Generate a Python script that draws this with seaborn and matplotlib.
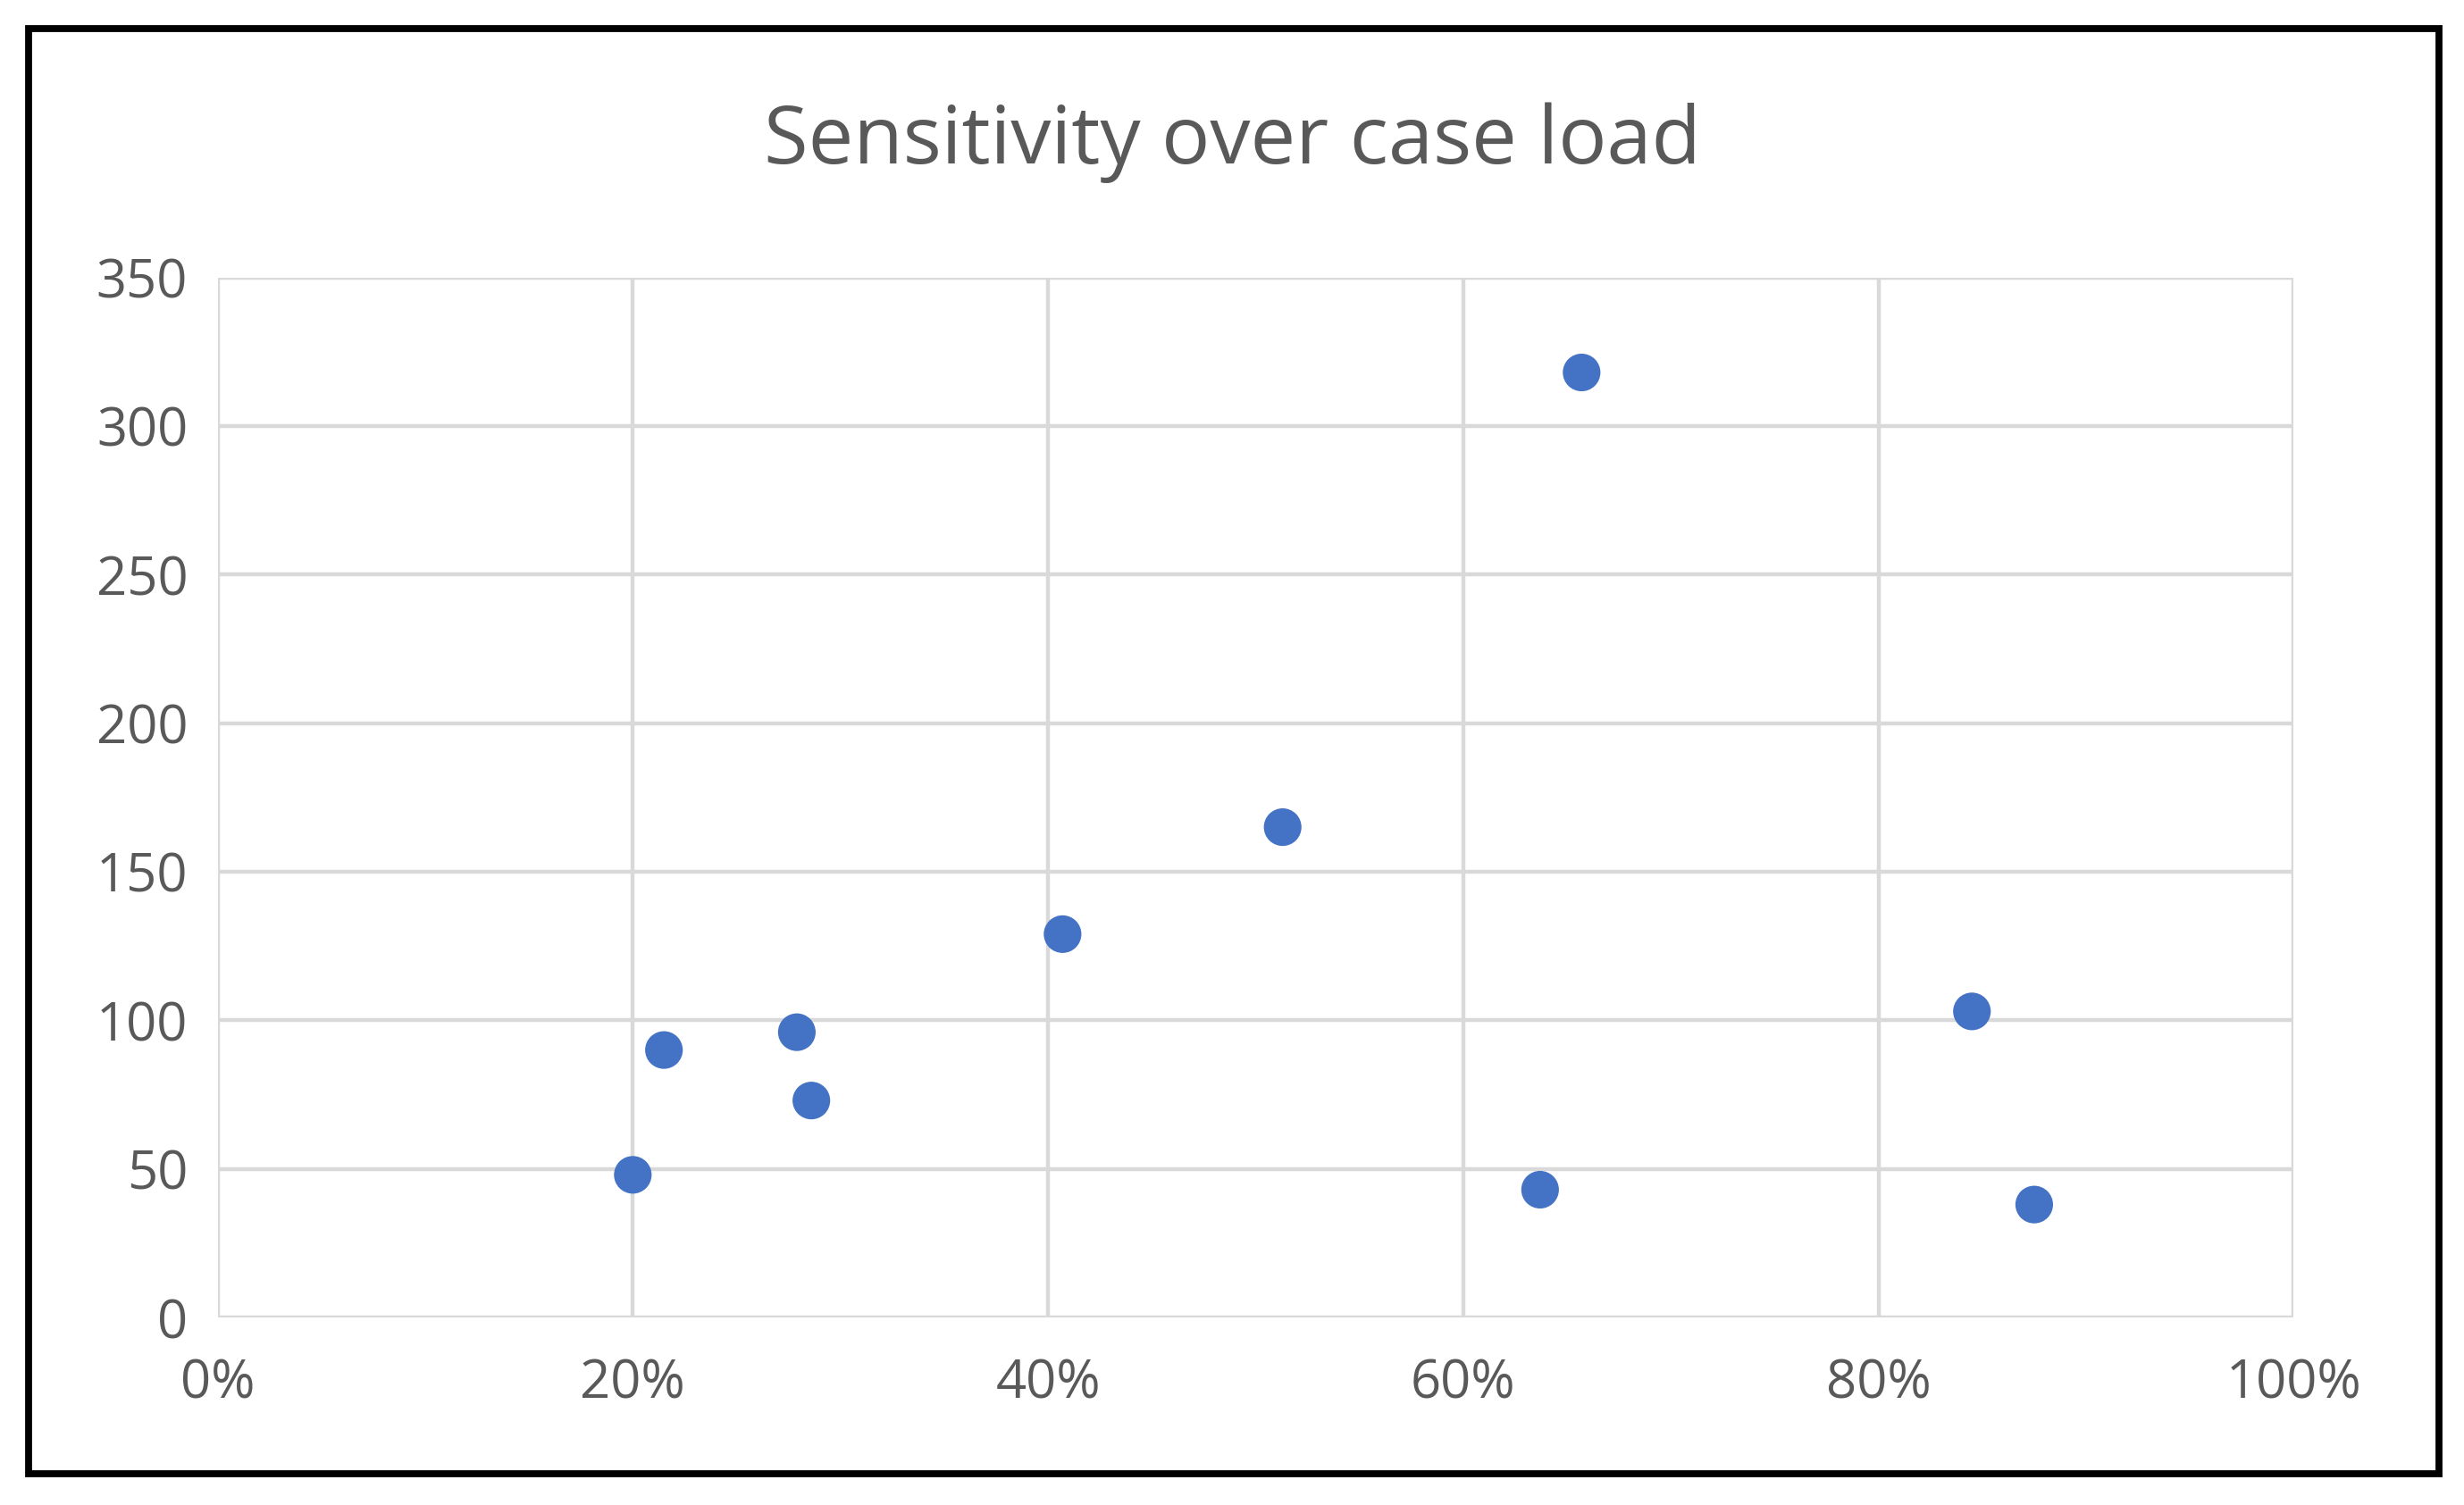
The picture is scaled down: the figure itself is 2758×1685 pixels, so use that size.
import matplotlib
matplotlib.use("Agg")
import matplotlib.pyplot as plt
import seaborn as sns
import pandas as pd
from matplotlib.patches import Rectangle
from matplotlib.ticker import PercentFormatter

# values
case_load = [0.20, 0.215, 0.279, 0.286, 0.407, 0.513, 0.657, 0.637, 0.845, 0.875]
sensitivity = [48, 90, 96, 73, 129, 165, 318, 43, 103, 38]

df = pd.DataFrame({"case_load": case_load, "sensitivity": sensitivity})

sns.set_style("white")
plt.rcParams["font.family"] = ["Open Sans", "DejaVu Sans"]

fig = plt.figure(figsize=(13.79, 8.425), dpi=200)
ax = fig.add_axes([0.0883, 0.1246, 0.8426, 0.6911])

sns.scatterplot(data=df, x="case_load", y="sensitivity", ax=ax,
                color="#4472C4", s=230, edgecolor="none", zorder=3)

ax.set_xlim(0, 1)
ax.set_ylim(0, 350)
ax.set_xticks([0, 0.2, 0.4, 0.6, 0.8, 1.0])
ax.set_yticks(range(0, 351, 50))
ax.xaxis.set_major_formatter(PercentFormatter(1.0, decimals=0))
ax.grid(True, color="#D9D9D9", linewidth=1.6)
ax.set_axisbelow(True)
for s in ax.spines.values():
    s.set_visible(False)
ax.tick_params(axis="both", length=0, labelsize=21.5, labelcolor="#595959")
ax.tick_params(axis="x", pad=16)
ax.tick_params(axis="y", pad=12)
ax.set_xlabel("")
ax.set_ylabel("")

fig.text(0.5, 0.905, "Sensitivity over case load", ha="center", va="center",
         fontsize=32.5, color="#595959")

fig.patches.append(Rectangle((0.0115, 0.0209), 0.9783, 0.9601, transform=fig.transFigure,
                             fill=False, edgecolor="black", linewidth=2.8))

fig.savefig("out.png", dpi=200)
